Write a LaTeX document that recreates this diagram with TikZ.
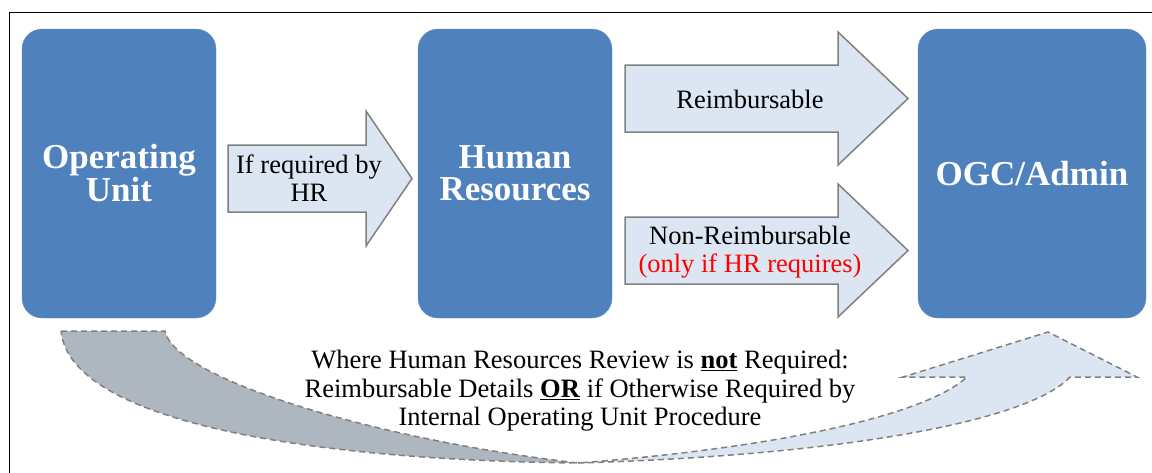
\documentclass[tikz,border=0pt]{standalone}
\usepackage{fontspec}
\setmainfont{Liberation Serif}
\usetikzlibrary{positioning}
\definecolor{boxblue}{HTML}{4F81BD}
\definecolor{arrowfill}{HTML}{DCE6F2}
\definecolor{arrowline}{HTML}{808080}
\definecolor{backgray}{HTML}{AEB6C0}
\begin{document}
\begin{tikzpicture}[x=1pt,y=-1pt,
  unit/.style={fill=boxblue,draw=boxblue!85!white,rounded corners=20pt,minimum width=194pt,minimum height=289pt,text=white,align=center,font=\fontsize{35}{32}\selectfont\bfseries},
  blockarrow/.style={fill=arrowfill,draw=arrowline,line width=1.5pt},
  curvearrow/.style={draw=arrowline,line width=1.5pt,dash pattern=on 6pt off 4pt},
  lbl/.style={align=center,font=\fontsize{26.5}{28.5}\selectfont}]
      \useasboundingbox (0,0) rectangle (1152,472);
      \draw[line width=1.2pt] (9.5,480) -- (9.5,12.5) -- (1160,12.5);
      \node[unit] (opunit) at (119,173.5) {Operating\\Unit};
      \node[unit] (hr) at (515,173.5) {Human\\Resources};
      \node[unit,minimum width=228pt] (ogc) at (1032,173.5) {OGC/Admin};
      \draw[blockarrow] (228,145) -- (366,145) -- (366,111) -- (412,178.5) -- (366,246) -- (366,212) -- (228,212) -- cycle;
      \draw[blockarrow] (625,65) -- (838,65) -- (838,32) -- (908,98.5) -- (838,165) -- (838,132) -- (625,132) -- cycle;
      \draw[blockarrow] (625,217) -- (838,217) -- (838,184) -- (908,250.5) -- (838,317) -- (838,284) -- (625,284) -- cycle;
      \node[lbl] (ifhr) at (309,178) {If required by\\HR};
      \node[lbl] (reimb) at (750,99) {Reimbursable};
      \node[lbl] (nonreimb) at (750,252) {Non-Reimbursable\\\textcolor{red}{(only if HR requires)}};
      \draw[curvearrow,fill=backgray] (61,331) -- (165,331) .. controls (175,380) and (380,440) .. (578,463) .. controls (300,460) and (70,420) .. (61,331) -- cycle;
      \draw[curvearrow,fill=arrowfill] (578,463) .. controls (850,455) and (1030,420) .. (1070,377) -- (1137,377) -- (1048,332) -- (903,377) -- (967,377) .. controls (920,420) and (750,450) .. (578,463) -- cycle;
      \node[lbl] (bypass) at (580,391) {Where Human Resources Review is \underline{\textbf{not}} Required:\\Reimbursable Details \underline{\textbf{OR}} if Otherwise Required by\\Internal Operating Unit Procedure};
\end{tikzpicture}
\end{document}
